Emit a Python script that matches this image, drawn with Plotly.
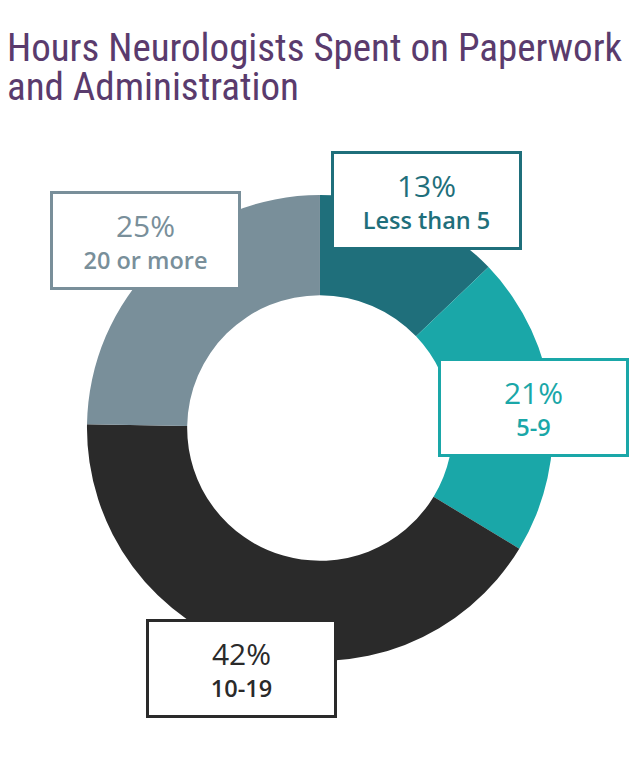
import plotly.graph_objects as go

categories = ["Less than 5", "5-9", "10-19", "20 or more"]
values = [13, 21, 42, 25]
colors = ["#1f6f7b", "#1aa7a8", "#2a2a2a", "#798f9a"]
title_lines = ["Hours Neurologists Spent on Paperwork", "and Administration"]

# box centres (paper coords)
box_pos = [(0.6664, 0.7359), (0.8336, 0.4639), (0.3766, 0.1222), (0.2273, 0.6846)]

fig = go.Figure()
fig.add_trace(go.Pie(
    labels=categories,
    values=values,
    hole=0.57,
    sort=False,
    direction="clockwise",
    rotation=0,
    textinfo="none",
    hoverinfo="label+percent",
    marker=dict(colors=colors, line=dict(width=0)),
    domain=dict(x=[0.1359, 0.864], y=[0.1314, 0.7438]),
    showlegend=False,
))

annotations = []
for cat, val, col, (x, y) in zip(categories, values, colors, box_pos):
    annotations.append(dict(
        x=x, y=y, xref="paper", yref="paper", xanchor="center", yanchor="middle",
        text=(f"<span style='font-size:30px;font-weight:400'>{val}%</span><br>"
              f"<span style='font-size:23.5px;font-weight:600'>{cat}</span>"),
        showarrow=False,
        font=dict(family="Open Sans, sans-serif", color=col, size=24),
        bgcolor="white", bordercolor=col, borderwidth=3, borderpad=0,
        width=185, height=93, align="center", valign="middle",
    ))

for i, line in enumerate(title_lines):
    annotations.append(dict(
        x=0.008, y=1 - (48 + 39 * i) / 761, xref="paper", yref="paper",
        xanchor="left", yanchor="middle", showarrow=False, text=line,
        font=dict(family="Roboto Condensed, Liberation Sans Narrow, DejaVu Sans Condensed, sans-serif",
                  size=39, color="#5a3b6d"),
    ))

fig.update_layout(
    width=640, height=761,
    margin=dict(l=0, r=0, t=0, b=0),
    paper_bgcolor="white", plot_bgcolor="white",
    annotations=annotations,
)

fig.write_html("out.html")
